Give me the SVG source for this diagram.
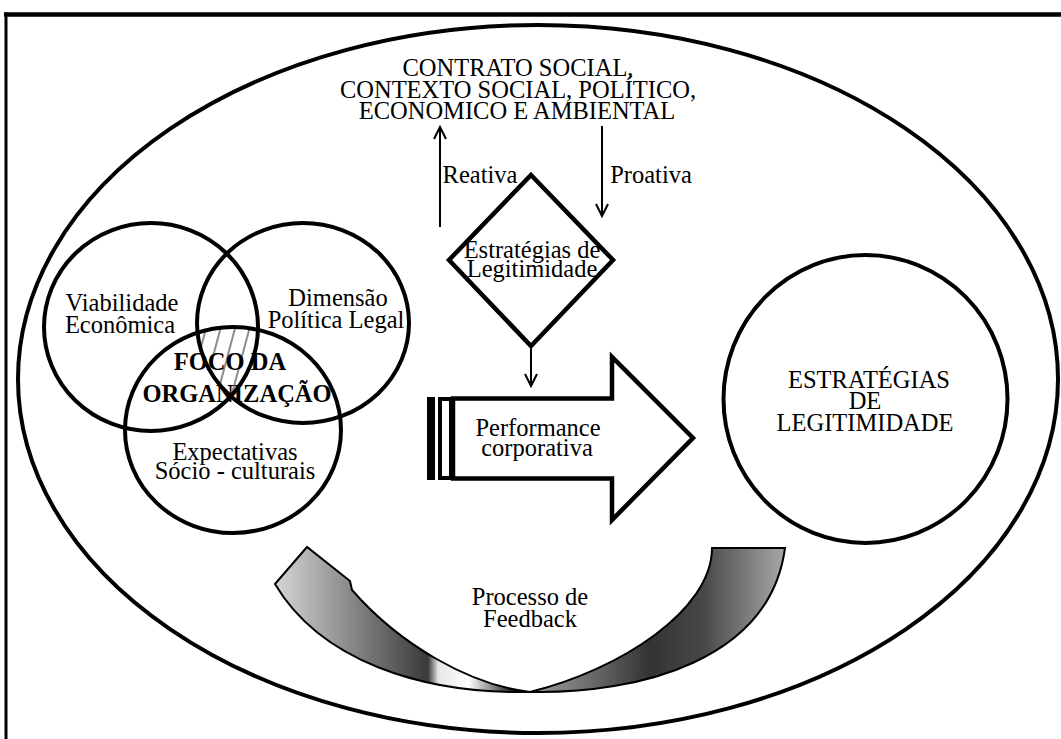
<svg xmlns="http://www.w3.org/2000/svg" width="1061" height="739" viewBox="0 0 1061 739">
<style>
text{font-family:"Liberation Serif","Times New Roman",serif;font-size:24.5px;fill:#000;text-anchor:middle}
.b{font-weight:bold}
.thick{fill:none;stroke:#000;stroke-width:4}
.conn{fill:none;stroke:#000;stroke-width:2}
</style>
<defs>
<marker id="vh" markerUnits="userSpaceOnUse" markerWidth="16" markerHeight="16" refX="13" refY="7" orient="auto">
<path d="M1,1 L13,7 L1,13" fill="none" stroke="#000" stroke-width="2"/>
</marker>
<pattern id="hatch" patternUnits="userSpaceOnUse" width="14" height="14" patternTransform="rotate(15)">
<line x1="4" y1="0" x2="4" y2="14" stroke="#666" stroke-width="1.5"/>
</pattern>
<clipPath id="cA"><ellipse cx="151" cy="327" rx="107" ry="104"/></clipPath>
<clipPath id="cB"><ellipse cx="303" cy="323" rx="106" ry="100"/></clipPath>
<clipPath id="cC"><ellipse cx="233" cy="430" rx="108" ry="103"/></clipPath>
<linearGradient id="gL" gradientUnits="userSpaceOnUse" x1="275" y1="0" x2="530" y2="0">
<stop offset="0" stop-color="#d6d6d6"/>
<stop offset="0.6" stop-color="#3a3a3a"/>
<stop offset="0.64" stop-color="#e6e6e6"/>
<stop offset="0.76" stop-color="#ffffff"/>
<stop offset="0.93" stop-color="#202020"/>
<stop offset="1" stop-color="#000"/>
</linearGradient>
<linearGradient id="gR" gradientUnits="userSpaceOnUse" x1="530" y1="0" x2="785" y2="0">
<stop offset="0" stop-color="#9a9a9a"/>
<stop offset="0.15" stop-color="#808080"/>
<stop offset="0.47" stop-color="#333"/>
<stop offset="0.68" stop-color="#484848"/>
<stop offset="1" stop-color="#a8a8a8"/>
</linearGradient>
</defs>
<rect width="1061" height="739" fill="#fff"/>
<g id="frame">
<line x1="4" y1="14.5" x2="1061" y2="14.5" stroke="#000" stroke-width="4.5"/>
<line x1="6" y1="12.5" x2="6" y2="739" stroke="#000" stroke-width="3"/>
</g>
<g id="context">
<ellipse cx="538" cy="379" rx="520" ry="354" class="thick"/>
<text x="518" y="76" font-size="25px">CONTRATO SOCIAL,</text>
<text x="518" y="97.5" font-size="25px">CONTEXTO SOCIAL, POLÍTICO,</text>
<text x="517" y="119" font-size="25px">ECONOMICO E AMBIENTAL</text>
</g>
<g id="venn">
<g clip-path="url(#cA)"><g clip-path="url(#cB)"><rect x="180" y="300" width="100" height="140" fill="url(#hatch)" clip-path="url(#cC)"/></g></g>
<ellipse cx="151" cy="327" rx="107" ry="104" class="thick"/>
<ellipse cx="303" cy="323" rx="106" ry="100" class="thick"/>
<ellipse cx="233" cy="430" rx="108" ry="103" class="thick"/>
<text x="122" y="311">Viabilidade</text>
<text x="120" y="333">Econômica</text>
<text x="338" y="306">Dimensão</text>
<text x="336" y="328">Política Legal</text>
<text x="230" y="370" class="b">FOCO DA</text>
<text x="237" y="402" class="b">ORGANIZAÇÃO</text>
<text x="235" y="460">Expectativas</text>
<text x="235" y="479">Sócio - culturais</text>
</g>
<g id="diamond">
<polygon points="531,175 613,260 531,346 449,260" fill="#fff" stroke="#000" stroke-width="4.5" stroke-linejoin="miter"/>
<text x="532" y="258">Estratégias de</text>
<text x="532" y="277">Legitimidade</text>
</g>
<g id="performance">
<rect x="427" y="397" width="8" height="83" fill="#000"/>
<rect x="440" y="399" width="11" height="79" fill="#fff" stroke="#000" stroke-width="4"/>
<polygon points="453,398.5 612,398.5 612,357 693,438 612,520 612,478.5 453,478.5" fill="#fff" stroke="#000" stroke-width="4.5"/>
<text x="538" y="436">Performance</text>
<text x="537" y="456">corporativa</text>
</g>
<g id="legitimidade">
<ellipse cx="865.5" cy="399" rx="142" ry="144" class="thick"/>
<text x="869" y="388">ESTRATÉGIAS</text>
<text x="865" y="409">DE</text>
<text x="865" y="431">LEGITIMIDADE</text>
</g>
<g id="feedback">
<path d="M275,584 L307,547 L350,581 L352,590 C400,645 470,685 530,692 C420,694 320,660 275,584 Z" fill="url(#gL)" stroke="#000" stroke-width="2"/>
<path d="M530,692 C640,694 770,660 785,548 L712,548 C712,610 620,670 530,692 Z" fill="url(#gR)" stroke="#000" stroke-width="2"/>
<text x="530" y="605">Processo de</text>
<text x="530" y="627">Feedback</text>
</g>
<g id="connectors">
<line x1="440" y1="227" x2="440" y2="127" class="conn" marker-end="url(#vh)"/>
<text x="480" y="183">Reativa</text>
<line x1="602" y1="126" x2="602" y2="216" class="conn" marker-end="url(#vh)"/>
<text x="651" y="183">Proativa</text>
<line x1="531" y1="347" x2="531" y2="386" class="conn" marker-end="url(#vh)"/>
</g>
</svg>
